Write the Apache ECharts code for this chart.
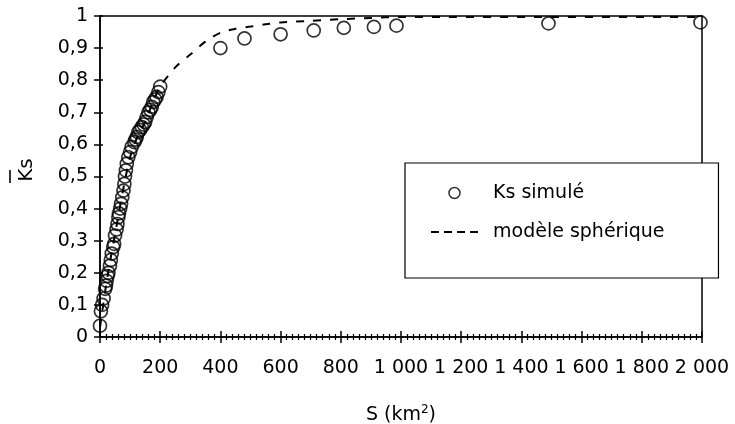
<!DOCTYPE html>
<html>
<head>
<meta charset="utf-8">
<script src="https://cdn.jsdelivr.net/npm/echarts@6/dist/echarts.min.js"></script>
<style>
html,body{margin:0;padding:0;background:#fff;}
#chart{width:735px;height:424px;}
</style>
</head>
<body>
<div id="chart"></div>
<script>
// Simulated Ks points (S in km², mean Ks)
var simS = [0, 3, 7, 12, 17, 20, 22, 25, 28, 33, 36, 39, 44, 47, 50, 55, 58, 61, 63, 67, 70, 74, 78, 81, 83, 86, 89, 94, 100, 105, 114, 118, 122, 127, 133, 139, 145, 150, 155, 161, 167, 172, 177, 183, 188, 194, 200, 400, 480, 600, 710, 810, 910, 985, 1490, 1995];
var simKs = [0.035, 0.08, 0.10, 0.12, 0.15, 0.16, 0.175, 0.19, 0.2, 0.222, 0.24, 0.26, 0.28, 0.29, 0.316, 0.335, 0.352, 0.373, 0.385, 0.40, 0.415, 0.435, 0.456, 0.477, 0.50, 0.519, 0.54, 0.56, 0.576, 0.592, 0.607, 0.615, 0.623, 0.638, 0.645, 0.654, 0.662, 0.67, 0.685, 0.70, 0.708, 0.717, 0.732, 0.74, 0.748, 0.763, 0.78, 0.90, 0.93, 0.943, 0.955, 0.963, 0.966, 0.97, 0.977, 0.98];
// Spherical model curve
var modelS = [0, 25, 50, 75, 100, 125, 150, 175, 200, 250, 300, 350, 400, 450, 500, 550, 600, 700, 800, 900, 1000, 1500, 2000];
var modelKs = [0.03, 0.19, 0.32, 0.45, 0.56, 0.625, 0.67, 0.73, 0.78, 0.84, 0.88, 0.92, 0.948, 0.96, 0.967, 0.974, 0.98, 0.985, 0.99, 0.994, 0.997, 0.997, 0.997];
var seriesNames = ['Ks simulé', 'modèle sphérique'];
var xTitle = 'S (km{sup|2})';
var yTitle = 'Ks';

var ff = "'DejaVu Sans', Verdana, sans-serif";
var black = '#000';

function zip(a, b) { return a.map(function (v, i) { return [v, b[i]]; }); }
function fmtX(v) { return String(v).replace(/\B(?=(\d{3})+(?!\d))/g, ' '); }
function fmtY(v) { return String(Math.round(v * 10) / 10).replace('.', ','); }

var chart = echarts.init(document.getElementById('chart'), null, {renderer: 'canvas'});
var lbl = {color: black, fontFamily: ff, fontSize: 19};

chart.setOption({
  animation: false,
  backgroundColor: '#fff',
  grid: {left: 100, right: 33, top: 16, bottom: 87, show: true, borderColor: black, borderWidth: 1.5,
    backgroundColor: 'transparent', containLabel: false, outerBoundsMode: 'none'},
  xAxis: [{
    type: 'value', min: 0, max: 2000, interval: 200, position: 'bottom',
    axisLine: {lineStyle: {color: black, width: 1.5}},
    axisTick: {length: 6, lineStyle: {color: black, width: 1.5}},
    minorTick: {show: true, splitNumber: 10, length: 3, lineStyle: {color: black, width: 1.2}},
    splitLine: {show: false}, minorSplitLine: {show: false},
    axisLabel: Object.assign({margin: 22, formatter: fmtX}, lbl),
    name: xTitle, nameLocation: 'middle', nameGap: 67,
    nameTextStyle: {color: black, fontFamily: ff, fontSize: 19, lineHeight: 22,
      rich: {sup: {fontSize: 12, verticalAlign: 'top', color: black, fontFamily: ff, lineHeight: 14}}}
  }, {
    type: 'value', min: 0, max: 2000, interval: 200, position: 'bottom',
    axisLine: {show: false},
    axisTick: {inside: true, length: 6, lineStyle: {color: black, width: 1.5}},
    minorTick: {show: true, splitNumber: 10, length: 3, lineStyle: {color: black, width: 1.2}},
    splitLine: {show: false}, axisLabel: {show: false}
  }],
  yAxis: [{
    type: 'value', min: 0, max: 1, interval: 0.1, position: 'left',
    axisLine: {lineStyle: {color: black, width: 1.5}},
    axisTick: {length: 6, lineStyle: {color: black, width: 1.5}},
    splitLine: {show: false},
    axisLabel: Object.assign({margin: 12, formatter: fmtY}, lbl)
  }, {
    type: 'value', min: 0, max: 1, interval: 0.1, position: 'left',
    axisLine: {show: false},
    axisTick: {inside: true, length: 3, lineStyle: {color: black, width: 1.5}},
    splitLine: {show: false}, axisLabel: {show: false}
  }],
  legend: {
    left: 405, top: 163, orient: 'vertical',
    itemWidth: 47, itemHeight: 11, itemGap: 19,
    padding: [20, 54, 36, 25],
    borderColor: black, borderWidth: 1.2, backgroundColor: '#fff',
    textStyle: {color: black, fontFamily: ff, fontSize: 19, lineHeight: 20, padding: [0, 0, 0, 10]},
    data: [
      {name: seriesNames[0], icon: 'circle', itemStyle: {color: 'transparent', borderColor: black, borderWidth: 1.5}},
      {name: seriesNames[1], itemStyle: {color: 'transparent', borderWidth: 0, opacity: 0}, lineStyle: {type: [8, 5], width: 2, color: black, opacity: 1}}
    ]
  },
  graphic: [
    {type: 'text', x: 27, y: 170, rotation: Math.PI / 2,
      style: {text: yTitle, font: '20px ' + ff, fill: black, textAlign: 'center', textVerticalAlign: 'middle'}},
    {type: 'line', shape: {x1: 10, y1: 170, x2: 10, y2: 183}, style: {stroke: black, lineWidth: 1.6}}
  ],
  series: [{
    name: seriesNames[0], type: 'scatter', xAxisIndex: 0, yAxisIndex: 0,
    data: zip(simS, simKs), symbol: 'circle', symbolSize: 13, z: 3,
    itemStyle: {color: 'transparent', borderColor: black, borderWidth: 1.7}
  }, {
    name: seriesNames[1], type: 'line', xAxisIndex: 0, yAxisIndex: 0, color: black,
    data: zip(modelS, modelKs), showSymbol: false, symbol: 'none', smooth: 0.3, z: 2,
    itemStyle: {color: black},
    lineStyle: {color: black, width: 2, type: [8, 9]}
  }]
});
</script>
</body>
</html>
